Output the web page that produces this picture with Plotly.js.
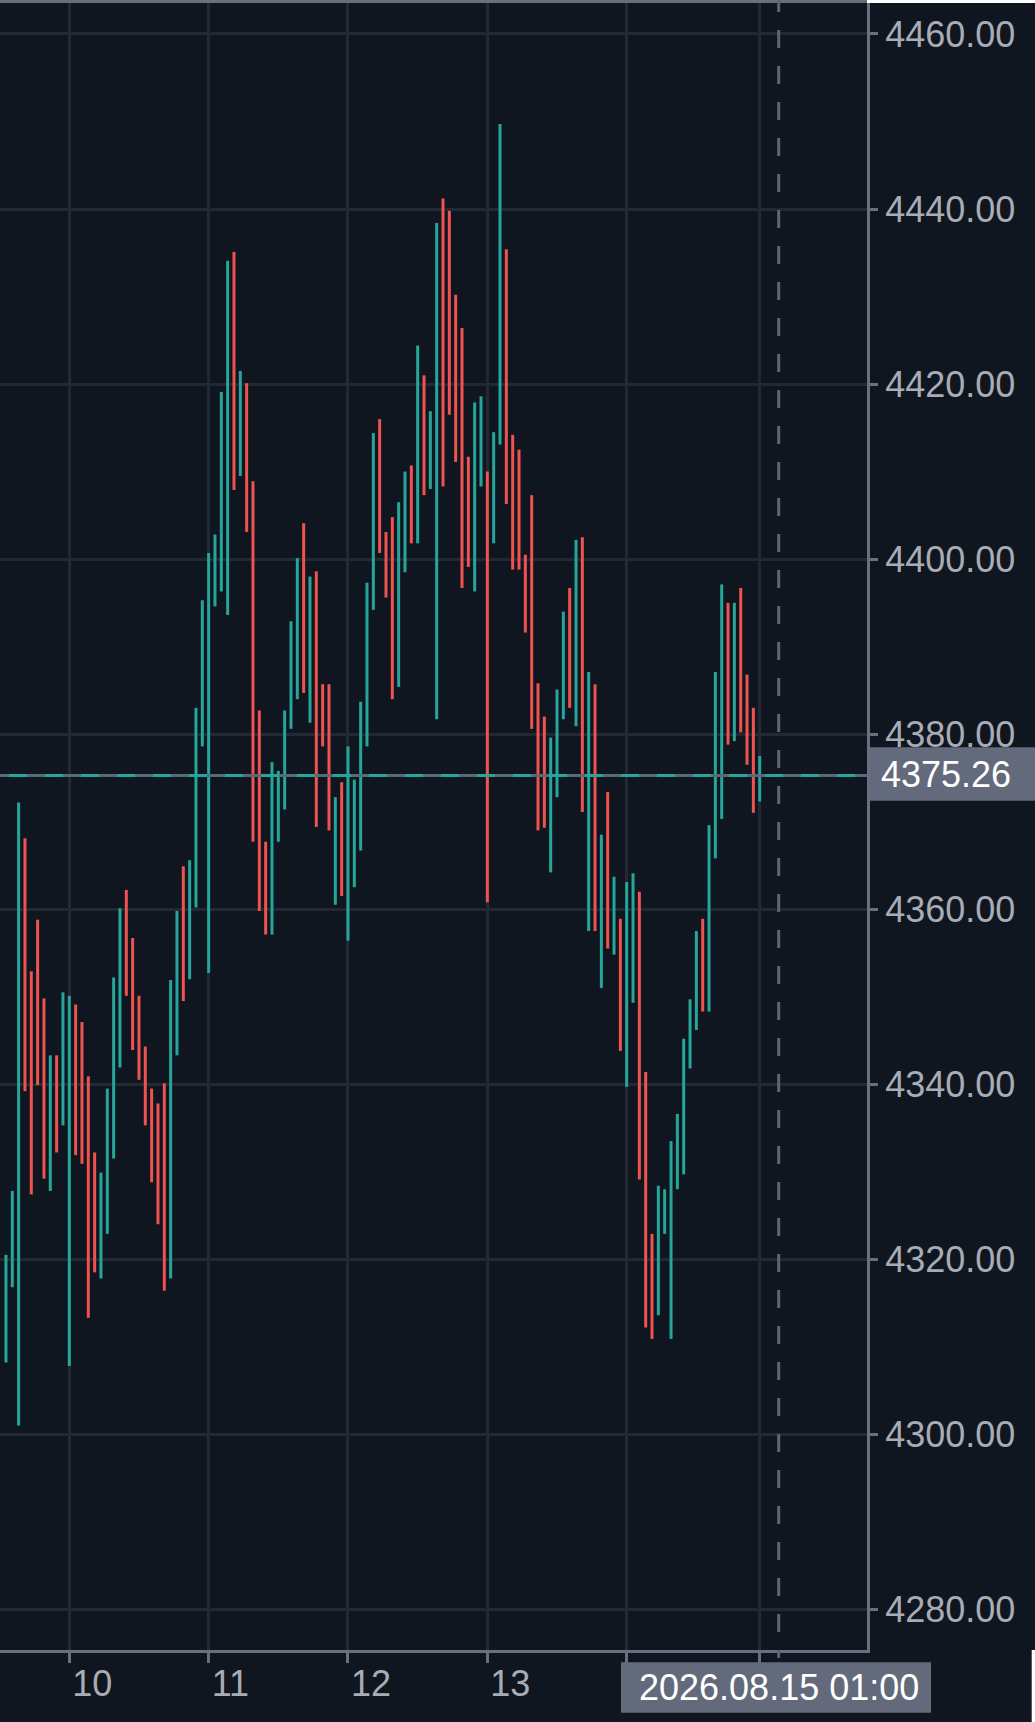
<!DOCTYPE html>
<html>
<head>
<meta charset="utf-8">
<script src="https://cdn.plot.ly/plotly-3.0.1.min.js"></script>
<style>
  html, body { margin: 0; padding: 0; background: #ffffff; }
  #chart { width: 1035px; height: 1722px; }
</style>
</head>
<body>
<div id="chart"></div>
<script>
// ---- data ----
const barHigh = [
  4320.5, 4327.8, 4372.2, 4368.1, 4352.9, 4358.8, 4349.8, 4343.3, 4343.3, 4350.5,
  4350.1, 4349.1, 4347.1, 4340.9, 4332.2, 4329.9, 4339.5, 4352.2, 4360.1, 4362.2,
  4356.7, 4350.1, 4344.3, 4339.5, 4337.8, 4340.1, 4351.9, 4359.8, 4364.9, 4365.6,
  4383.0, 4395.3, 4400.7, 4402.8, 4419.1, 4434.1, 4435.1, 4421.5, 4420.1, 4408.9,
  4382.7, 4367.7, 4376.8, 4375.8, 4382.7, 4392.9, 4400.1, 4404.1, 4398.0, 4398.6,
  4385.7, 4385.7, 4372.8, 4374.5, 4378.6, 4374.8, 4383.7, 4397.3, 4414.4, 4416.0,
  4403.1, 4404.8, 4406.5, 4410.0, 4410.7, 4424.4, 4421.0, 4416.9, 4438.4, 4441.2,
  4439.8, 4430.2, 4426.4, 4411.7, 4417.9, 4418.6, 4410.0, 4414.5, 4449.7, 4435.4,
  4414.2, 4412.5, 4400.5, 4407.3, 4385.8, 4382.0, 4379.6, 4385.1, 4394.0, 4396.7,
  4402.2, 4402.5, 4387.1, 4385.7, 4368.5, 4373.4, 4363.7, 4358.9, 4363.1, 4364.1,
  4362.0, 4341.4, 4322.9, 4328.4, 4328.0, 4333.5, 4336.6, 4345.2, 4349.7, 4357.5,
  4358.9, 4369.6, 4387.1, 4397.1, 4395.0, 4395.0, 4396.7, 4386.8, 4383.0, 4377.5
];
const barLow = [
  4308.2, 4316.8, 4301.0, 4339.2, 4327.4, 4339.9, 4329.2, 4327.8, 4332.2, 4335.3,
  4307.8, 4331.9, 4330.9, 4313.3, 4318.5, 4317.8, 4322.9, 4331.5, 4341.9, 4350.1,
  4343.9, 4340.5, 4335.3, 4328.8, 4324.0, 4316.4, 4317.8, 4343.3, 4349.5, 4352.0,
  4360.2, 4378.6, 4352.7, 4394.6, 4396.3, 4393.6, 4407.9, 4409.5, 4403.1, 4367.7,
  4359.8, 4357.1, 4357.1, 4367.7, 4371.4, 4380.6, 4384.0, 4384.7, 4381.3, 4369.4,
  4378.6, 4369.0, 4360.5, 4361.5, 4356.4, 4362.5, 4366.7, 4378.6, 4394.2, 4400.7,
  4395.6, 4384.0, 4385.4, 4398.5, 4401.8, 4401.8, 4407.3, 4408.0, 4381.7, 4408.3,
  4416.5, 4411.1, 4396.7, 4399.1, 4396.3, 4408.3, 4360.8, 4401.8, 4413.1, 4406.3,
  4398.8, 4398.8, 4391.6, 4380.6, 4369.0, 4369.3, 4364.2, 4372.8, 4381.7, 4383.0,
  4380.9, 4371.1, 4357.5, 4357.5, 4351.0, 4355.5, 4354.8, 4343.8, 4339.7, 4349.3,
  4329.1, 4312.2, 4310.9, 4313.6, 4322.9, 4310.9, 4328.0, 4329.7, 4341.8, 4346.2,
  4348.3, 4348.3, 4365.8, 4370.3, 4378.8, 4379.2, 4380.2, 4376.5, 4371.0, 4372.3
];
// 'u' = rising bar (teal), 'd' = falling bar (red)
const barDir = [
  'u','u','u','d','d','d','d','u','d','u',
  'u','d','d','d','d','u','u','u','u','d',
  'd','d','d','d','d','d','u','u','d','u',
  'u','u','u','u','u','u','d','u','d','d',
  'd','d','u','u','u','u','u','d','u','d',
  'd','d','u','d','u','u','u','u','u','d',
  'd','d','u','u','d','u','d','u','u','d',
  'd','d','d','d','u','u','d','u','u','d',
  'd','d','d','d','d','d','u','u','u','d',
  'u','d','u','d','u','d','u','d','u','u',
  'd','d','d','u','u','u','u','u','u','u',
  'd','u','u','u','d','u','d','d','d','u'
];
// day grid lines; the last two labels are hidden behind the crosshair time box in the reference
const dayLabels = ['10', '11', '12', '13', '', ''];
const dayStartIndex = [10, 32, 54, 76, 98, 119];
const priceTicks = [4280, 4300, 4320, 4340, 4360, 4380, 4400, 4420, 4440, 4460];
const lastPrice = 4375.26;
const crosshairIndex = 122;
const crosshairLabel = '2026.08.15 01:00';

// ---- build traces ----
const UP = '#26a69a', DOWN = '#ef5350';
function segs(dir) {
  const xs = [], ys = [];
  barHigh.forEach((h, i) => {
    if (barDir[i] !== dir) return;
    xs.push(i, i, null);
    ys.push(barLow[i], h, null);
  });
  return { x: xs, y: ys };
}
const up = segs('u'), dn = segs('d');
const traces = [
  { type: 'scatter', mode: 'lines', x: up.x, y: up.y, line: { color: UP, width: 3 }, hoverinfo: 'skip', connectgaps: false },
  { type: 'scatter', mode: 'lines', x: dn.x, y: dn.y, line: { color: DOWN, width: 3 }, hoverinfo: 'skip', connectgaps: false }
];

const BG = '#10161f', GRID = '#232934', AXIS = '#6a6f80', TXT = '#a9acb5', LABELBG = '#636a7b';
const FONT = 'Liberation Sans, Arial, sans-serif';
const PW = 867, PH = 1647; // plot area px

const layout = {
  width: 1035, height: 1722,
  margin: { l: 0, r: 168, t: 3, b: 72, pad: 0 },
  paper_bgcolor: BG, plot_bgcolor: BG,
  showlegend: false,
  font: { family: FONT, size: 36, color: TXT },
  xaxis: {
    range: [-0.94, 135.94],
    tickmode: 'array', tickvals: dayStartIndex, ticktext: dayLabels,
    showgrid: true, gridcolor: GRID, gridwidth: 3, zeroline: false,
    showline: true, mirror: true, linecolor: AXIS, linewidth: 3,
    ticks: 'outside', ticklen: 10, tickwidth: 3, tickcolor: AXIS,
    ticklabelposition: 'outside right',
    tickfont: { family: FONT, size: 36, color: TXT },
    fixedrange: true
  },
  yaxis: {
    side: 'right',
    range: [4275.35, 4463.54],
    tickmode: 'array', tickvals: priceTicks, ticktext: priceTicks.map(v => v.toFixed(2)),
    showgrid: true, gridcolor: GRID, gridwidth: 3, zeroline: false,
    showline: true, linecolor: AXIS, linewidth: 3,
    ticks: 'outside', ticklen: 8, tickwidth: 3, tickcolor: AXIS,
    tickfont: { family: FONT, size: 36, color: TXT },
    fixedrange: true
  },
  shapes: [
    // last price line (grey base + teal dashes)
    { type: 'line', layer: 'above', xref: 'paper', yref: 'y', x0: 0, x1: 1, y0: lastPrice, y1: lastPrice,
      line: { color: '#566b74', width: 3 } },
    { type: 'line', layer: 'above', xref: 'paper', yref: 'y', x0: -27 / PW, x1: 1, y0: lastPrice, y1: lastPrice,
      line: { color: UP, width: 3, dash: '18px,18px' } },
    // crosshair vertical dashed line
    { type: 'line', layer: 'above', xref: 'x', yref: 'paper', x0: crosshairIndex, x1: crosshairIndex,
      y0: 1 + 9 / PH, y1: -8 / PH, line: { color: '#5d6476', width: 3, dash: '18px,18px' } },
    // last price label box
    { type: 'rect', layer: 'above', xref: 'paper', yref: 'y', x0: 1 + 3 / PW, x1: 1.25,
      y0: lastPrice - 2.87, y1: lastPrice + 3.23, fillcolor: LABELBG, line: { width: 0 } },
    // crosshair time label box
    { type: 'rect', layer: 'above', xref: 'paper', yref: 'paper', x0: 621 / PW, x1: 931 / PW,
      y0: -62.7 / PH, y1: -12.3 / PH, fillcolor: LABELBG, line: { width: 0 } },
    // white page edges visible in the reference
    { type: 'rect', layer: 'above', xref: 'paper', yref: 'paper', x0: 1, x1: 1.25,
      y0: 1, y1: 1.02, fillcolor: '#ffffff', line: { width: 0 } },
    { type: 'rect', layer: 'above', xref: 'paper', yref: 'paper', x0: 1031.7 / PW, x1: 1.25,
      y0: -0.1, y1: 0, fillcolor: '#ffffff', line: { width: 0 } }
  ],
  annotations: [
    { xref: 'paper', yref: 'y', x: 1, y: lastPrice, xanchor: 'left', yanchor: 'middle',
      xshift: 12, yshift: 1.5, text: lastPrice.toFixed(2), showarrow: false,
      font: { family: FONT, size: 36, color: '#ffffff' } },
    { xref: 'x', yref: 'paper', x: crosshairIndex, y: -38 / PH, xanchor: 'center', yanchor: 'middle',
      text: crosshairLabel, showarrow: false,
      font: { family: FONT, size: 36, color: '#ffffff' } }
  ]
};

Plotly.newPlot('chart', traces, layout, { displayModeBar: false, staticPlot: true });
</script>
</body>
</html>
